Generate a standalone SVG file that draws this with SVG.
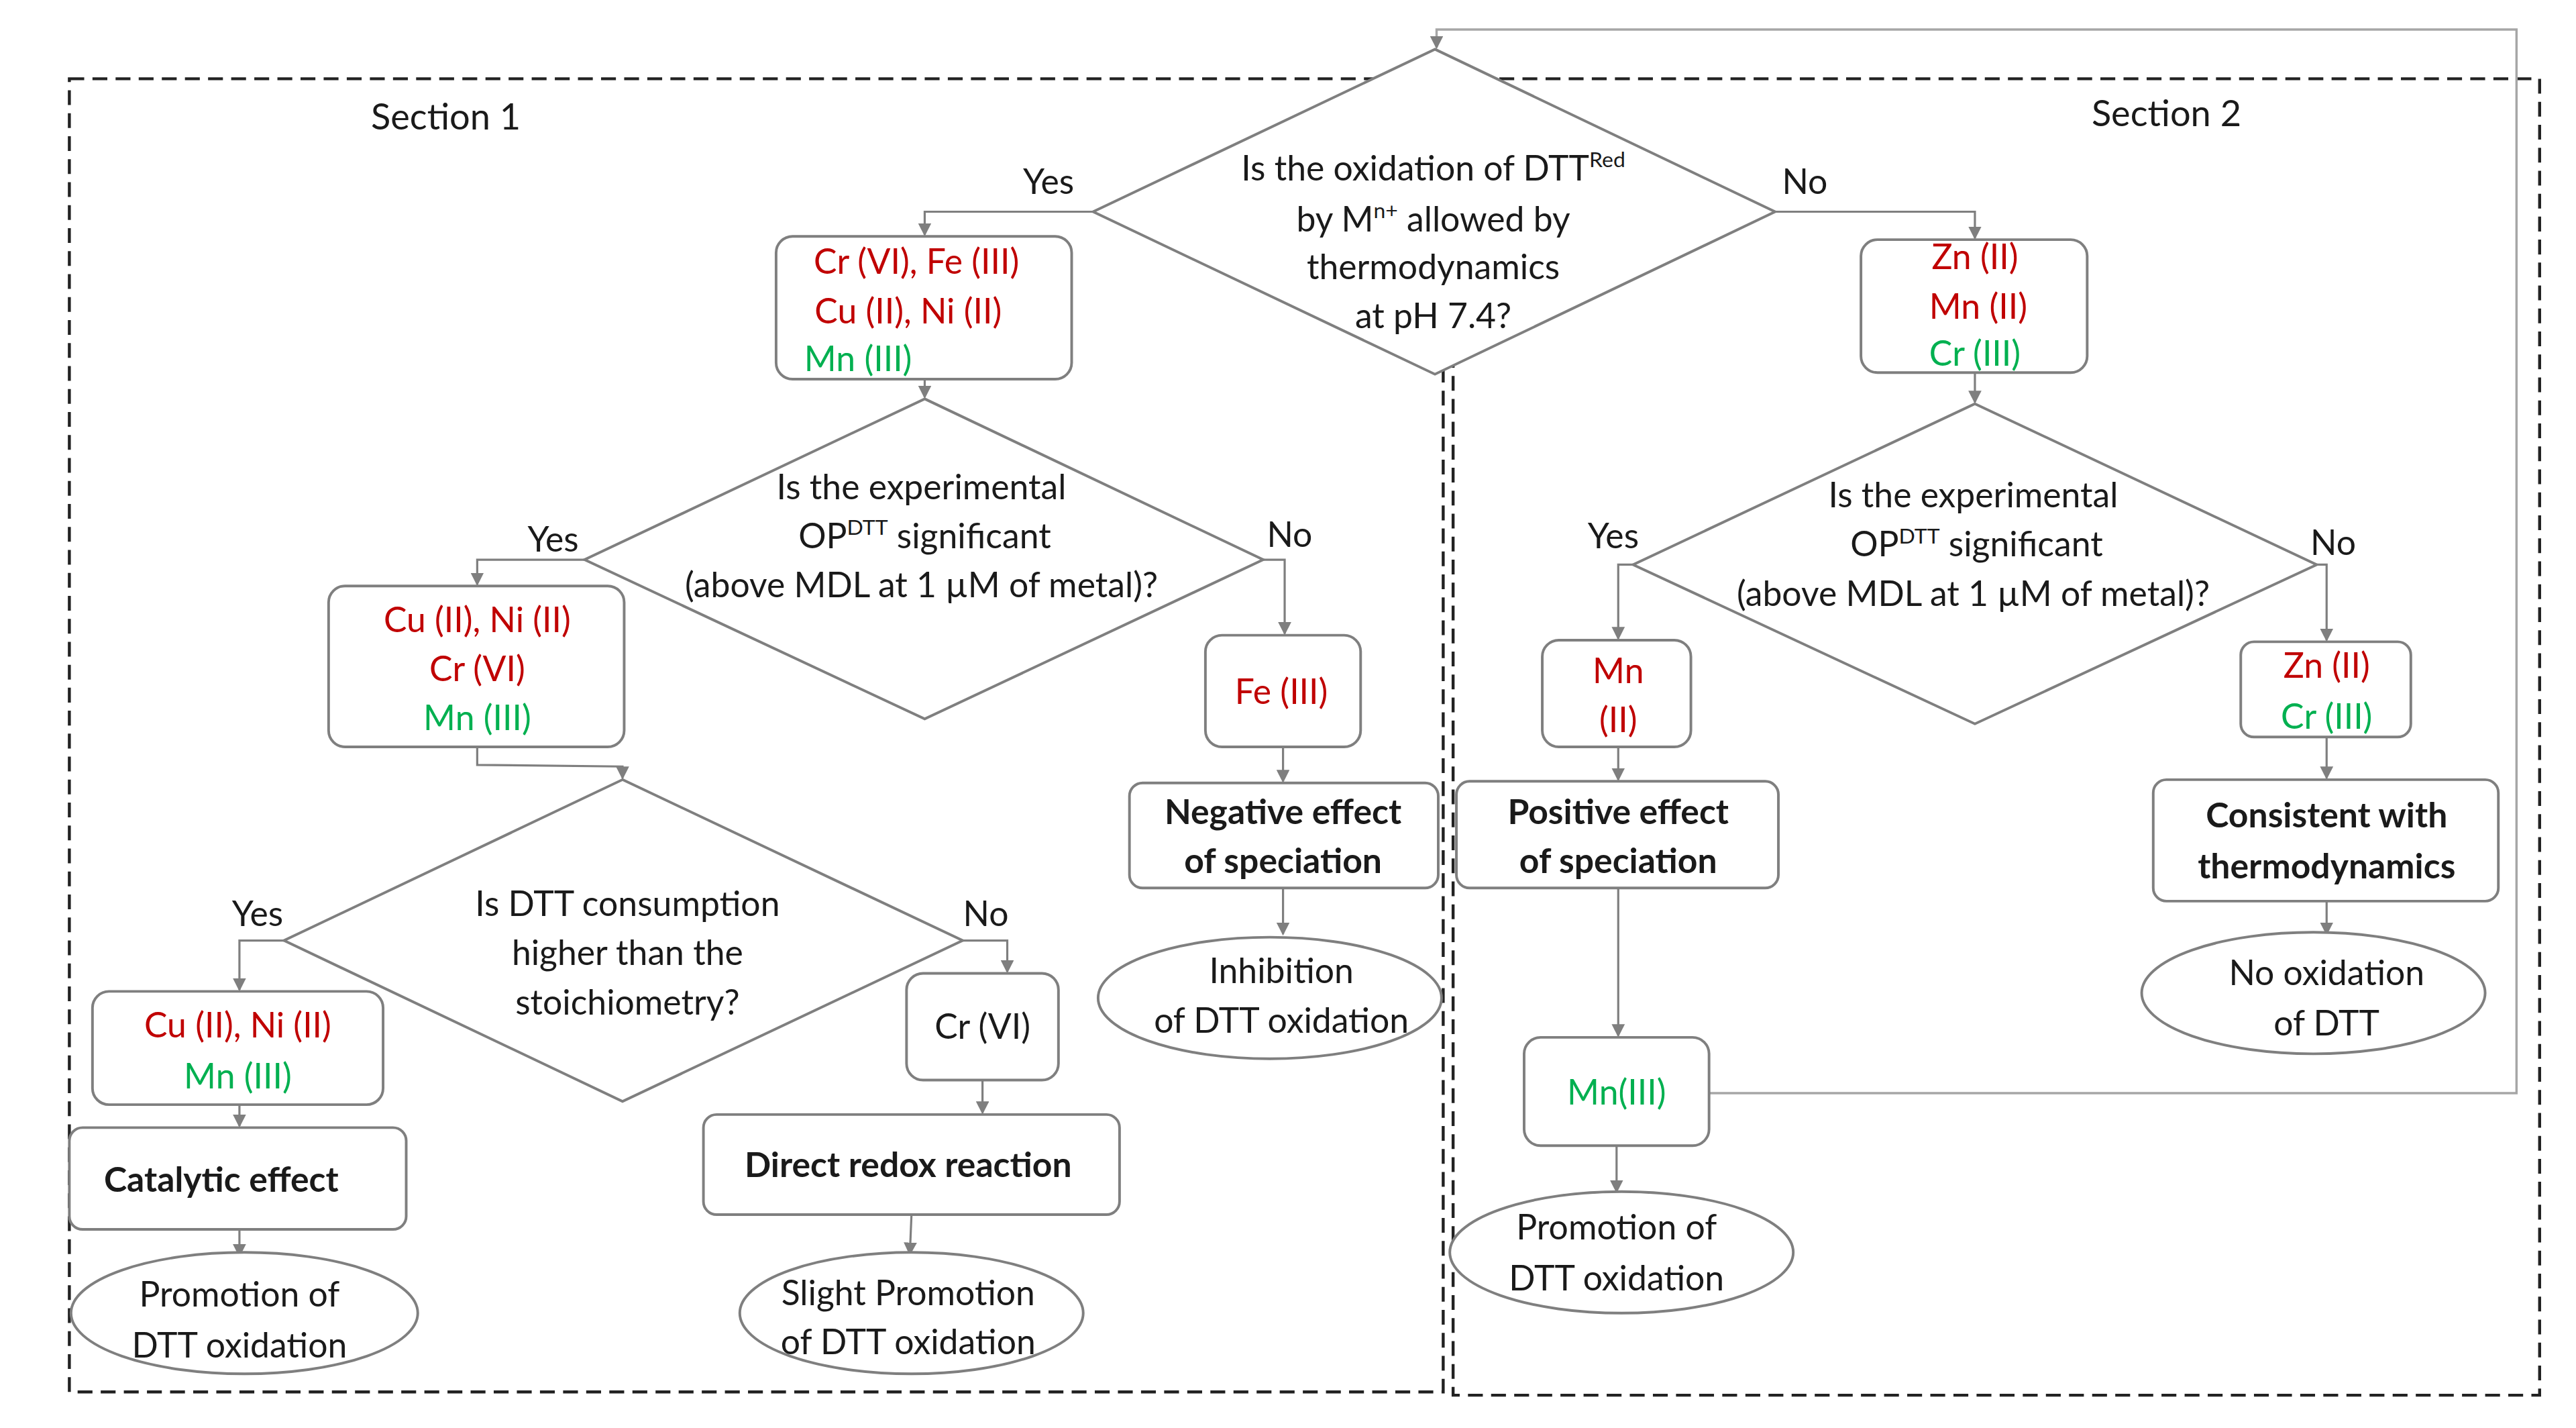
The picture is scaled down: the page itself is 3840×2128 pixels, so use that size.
<svg xmlns="http://www.w3.org/2000/svg" width="3840" height="2128" viewBox="0 0 3840 2128">
<style>
text{font-family:Lato,"Open Sans","Liberation Sans",sans-serif;font-size:21px;fill:#1a1a1a;text-anchor:middle}
.b{font-weight:bold}
.r{fill:#c00000}
.g{fill:#00b050}
.box{fill:#fff;stroke:#7f7f7f;stroke-width:1.6}
.sec{fill:none;stroke:#222;stroke-width:1.8;stroke-dasharray:9 5}
.c{fill:none;stroke:#7f7f7f;stroke-width:1.3;marker-end:url(#a)}
.fb{fill:none;stroke:#a6a6a6;stroke-width:1.4;marker-end:url(#a)}
sup{font-size:13px}
</style>
<defs><marker id="a" markerWidth="8" markerHeight="8" refX="7" refY="4" orient="auto" markerUnits="userSpaceOnUse"><path d="M0,0 L8,4 L0,8 Z" fill="#7f7f7f"/></marker></defs>
<rect width="3840" height="2128" fill="#fff"/>
<g transform="scale(2.4615 2.446)">
<g id="sections">
<rect class="sec" x="42" y="48" width="832" height="800"/>
<rect class="sec" x="880" y="48" width="658" height="802"/>
<text x="270" y="79" style="font-size:22px">Section 1</text>
<text x="1312" y="77" style="font-size:22px">Section 2</text>
</g>
<g id="connectors">
<polyline class="c" points="662,129 560,129 560,143"/>
<polyline class="c" points="1075,129 1196,129 1196,145"/>
<polyline class="c" points="560,231 560,242"/>
<polyline class="c" points="354,341 289,341 289,356"/>
<polyline class="c" points="765,341 778,341 778,386"/>
<polyline class="c" points="777,455 777,476"/>
<polyline class="c" points="777,541 777,569"/>
<polyline class="c" points="289,455 289,466 377,467 377,474"/>
<polyline class="c" points="172,573 145,573 145,603"/>
<polyline class="c" points="583,573 610,573 610,592"/>
<polyline class="c" points="145,673 145,686"/>
<polyline class="c" points="145,749 145,765"/>
<polyline class="c" points="595,658 595,678"/>
<polyline class="c" points="552,740 551,764"/>
<polyline class="c" points="1196,227 1196,245"/>
<polyline class="c" points="989,344 980,344 980,389"/>
<polyline class="c" points="1403,344 1409,344 1409,390"/>
<polyline class="c" points="980,455 980,475"/>
<polyline class="c" points="980,541 980,631"/>
<polyline class="c" points="979,698 979,726"/>
<polyline class="c" points="1409,449 1409,474"/>
<polyline class="c" points="1409,549 1409,569"/>
<polyline class="fb" points="1035,666 1524,666 1524,18 870,18 870,29"/>
<text x="635" y="118">Yes</text><text x="1093" y="118">No</text>
<text x="335" y="336">Yes</text><text x="781" y="333">No</text>
<text x="156" y="564">Yes</text><text x="597" y="564">No</text>
<text x="977" y="334">Yes</text><text x="1413" y="338">No</text>
</g>
<g id="d1"><polygon class="box" points="869,30 1075,129 869,228 662,129"/>
<text x="868" y="110">Is the oxidation of DTT<tspan dy="-8" style="font-size:13px">Red</tspan></text>
<text x="868" y="141">by M<tspan dy="-8" style="font-size:13px">n+</tspan><tspan dy="8"> allowed by</tspan></text>
<text x="868" y="170">thermodynamics</text><text x="868" y="200">at pH 7.4?</text></g>
<g id="nA"><rect class="box" x="470" y="144" width="179" height="87" rx="10"/>
<text class="r" x="555" y="167">Cr (VI), Fe (III)</text><text class="r" x="550" y="197">Cu (II), Ni (II)</text><text class="g" x="487" y="226" style="text-anchor:start">Mn (III)</text></g>
<g id="nB"><rect class="box" x="1127" y="146" width="137" height="81" rx="10"/>
<text class="r" x="1196" y="164">Zn (II)</text><text class="r" x="1198" y="194">Mn (II)</text><text class="g" x="1196" y="223">Cr (III)</text></g>
<g id="d2"><polygon class="box" points="560,243 765,341 560,438 354,341"/>
<text x="558" y="304">Is the experimental</text>
<text x="560" y="334">OP<tspan dy="-8" style="font-size:13px">DTT</tspan><tspan dy="8">  significant</tspan></text>
<text x="558" y="364">(above MDL at 1 µM of metal)?</text></g>
<g id="nC"><rect class="box" x="199" y="357" width="179" height="98" rx="10"/>
<text class="r" x="289" y="385">Cu (II), Ni (II)</text><text class="r" x="289" y="415">Cr (VI)</text><text class="g" x="289" y="445">Mn (III)</text></g>
<g id="nFe"><rect class="box" x="730" y="387" width="94" height="68" rx="10"/><text class="r" x="776" y="429">Fe (III)</text></g>
<g id="nNeg"><rect class="box" x="684" y="477" width="187" height="64" rx="8"/>
<text class="b" x="777" y="502">Negative effect</text><text class="b" x="777" y="532">of speciation</text></g>
<g id="eInh"><ellipse class="box" cx="769" cy="608" rx="104" ry="37"/>
<text x="776" y="599">Inhibition</text><text x="776" y="629">of DTT oxidation</text></g>
<g id="d3"><polygon class="box" points="377,475 583,573 377,671 172,573"/>
<text x="380" y="558">Is DTT consumption</text><text x="380" y="588">higher than the</text><text x="380" y="618">stoichiometry?</text></g>
<g id="nD"><rect class="box" x="56" y="604" width="176" height="69" rx="10"/>
<text class="r" x="144" y="632">Cu (II), Ni (II)</text><text class="g" x="144" y="663">Mn (III)</text></g>
<g id="nCat"><rect class="box" x="42" y="687" width="204" height="62" rx="8"/><text class="b" x="134" y="726">Catalytic effect</text></g>
<g id="eProm1"><ellipse class="box" cx="148" cy="800" rx="105" ry="37"/>
<text x="145" y="796">Promotion of</text><text x="145" y="827">DTT oxidation</text></g>
<g id="nCr"><rect class="box" x="549" y="593" width="92" height="65" rx="10"/><text x="595" y="633">Cr (VI)</text></g>
<g id="nDir"><rect class="box" x="426" y="679" width="252" height="61" rx="8"/><text class="b" x="550" y="717">Direct redox reaction</text></g>
<g id="eSlight"><ellipse class="box" cx="552" cy="800" rx="104" ry="37"/>
<text x="550" y="795">Slight Promotion</text><text x="550" y="825">of DTT oxidation</text></g>
<g id="d4"><polygon class="box" points="1196,246 1403,344 1196,441 989,344"/>
<text x="1195" y="309">Is the experimental</text>
<text x="1197" y="339">OP<tspan dy="-8" style="font-size:13px">DTT</tspan><tspan dy="8">  significant</tspan></text>
<text x="1195" y="369">(above MDL at 1 µM of metal)?</text></g>
<g id="nMn2"><rect class="box" x="934" y="390" width="90" height="65" rx="10"/>
<text class="r" x="980" y="416">Mn</text><text class="r" x="980" y="446">(II)</text></g>
<g id="nPos"><rect class="box" x="882" y="476" width="195" height="65" rx="8"/>
<text class="b" x="980" y="502">Positive effect</text><text class="b" x="980" y="532">of speciation</text></g>
<g id="nMn3"><rect class="box" x="923" y="632" width="112" height="66" rx="10"/><text class="g" x="979" y="673">Mn(III)</text></g>
<g id="eProm2"><ellipse class="box" cx="982" cy="763" rx="104" ry="37"/>
<text x="979" y="755">Promotion of</text><text x="979" y="786">DTT oxidation</text></g>
<g id="nZn"><rect class="box" x="1357" y="391" width="103" height="58" rx="8"/>
<text class="r" x="1409" y="413">Zn (II)</text><text class="g" x="1409" y="444">Cr (III)</text></g>
<g id="nCons"><rect class="box" x="1304" y="475" width="209" height="74" rx="8"/>
<text class="b" x="1409" y="504">Consistent with</text><text class="b" x="1409" y="535">thermodynamics</text></g>
<g id="eNo"><ellipse class="box" cx="1401" cy="605" rx="104" ry="37"/>
<text x="1409" y="600">No oxidation</text><text x="1409" y="631">of DTT</text></g>
</g>
</svg>
